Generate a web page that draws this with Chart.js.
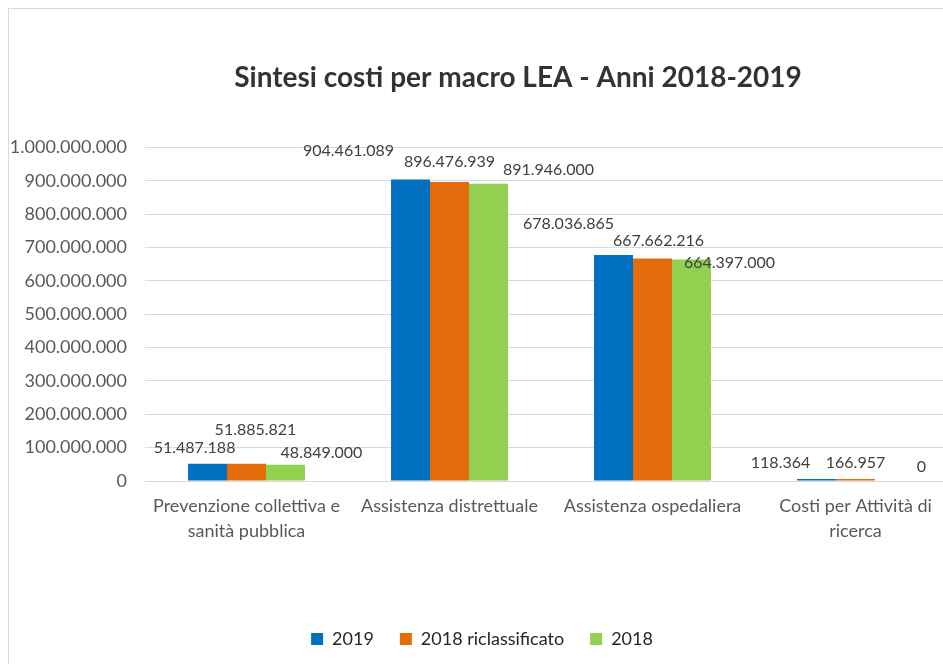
<!DOCTYPE html>
<html><head><meta charset="utf-8">
<script src="https://cdn.jsdelivr.net/npm/chart.js@4/dist/chart.umd.min.js"></script>
<style>
html,body{margin:0;padding:0;background:#fff;overflow:hidden;width:943px;height:664px;}
#frame{position:absolute;left:8px;top:8px;width:1100px;height:700px;border-left:1px solid #d9d9d9;border-top:1px solid #d9d9d9;}
#wrap{position:absolute;left:0;top:0;width:1018px;height:655px;}
</style></head><body>
<div id="frame"><div id="wrap"><canvas id="c"></canvas></div></div>
<script>
const categories = [["Prevenzione collettiva e","sanità pubblica"],"Assistenza distrettuale","Assistenza ospedaliera",["Costi per Attività di","ricerca"]];
const seriesNames = ["2019","2018 riclassificato","2018"];
const values2019 = [51487188, 904461089, 678036865, 118364];
const values2018Riclassificato = [51885821, 896476939, 667662216, 166957];
const values2018 = [48849000, 891946000, 664397000, 0];
const yMin = 0, yMax = 1000000000, yStep = 100000000;
const seriesColors = ["#0070C0","#E46C0A","#92D050"];

const fmt = v => String(v).replace(/\B(?=(\d{3})+(?!\d))/g, ".");

// label placement (dx, dy from top-centre of each bar), per series
const labelOffsets = [
  [[-13,-16],[-62,-29],[-45,-31],[-36,-18]],
  [[9,-34],[0,-20],[6,-18],[0,-18]],
  [[36,-12],[60,-14],[38,3],[27,-14]]
];

const dataLabels = {
  id: 'dataLabels',
  afterDatasetsDraw(chart) {
    const ctx = chart.ctx;
    ctx.save();
    ctx.font = '16px Lato';
    ctx.fillStyle = '#404040';
    ctx.textAlign = 'center';
    ctx.textBaseline = 'middle';
    chart.data.datasets.forEach((ds, i) => {
      chart.getDatasetMeta(i).data.forEach((bar, j) => {
        const [dx, dy] = labelOffsets[i][j];
        const top = chart.scales.y.getPixelForValue(ds.data[j]);
        ctx.fillText(fmt(ds.data[j]), bar.x + dx, top + dy);
      });
    });
    ctx.restore();
  }
};

const legendShift = {
  id: 'legendShift',
  afterLayout(chart, args, opts) {
    const l = chart.legend;
    if (l) { l.left += opts.dx; l.right += opts.dx; }
  }
};

new Chart(document.getElementById('c'), {
  type: 'bar',
  data: {
    labels: categories,
    datasets: [
      { label: seriesNames[0], data: values2019, backgroundColor: seriesColors[0], minBarLength: 2 },
      { label: seriesNames[1], data: values2018Riclassificato, backgroundColor: seriesColors[1], minBarLength: 2 },
      { label: seriesNames[2], data: values2018, backgroundColor: seriesColors[2] }
    ]
  },
  options: {
    responsive: true,
    maintainAspectRatio: false,
    animation: false,
    layout: { padding: { left: 0, right: 0, top: 0, bottom: 6 } },
    datasets: { bar: { categoryPercentage: 0.576, barPercentage: 1.0, borderWidth: 0 } },
    scales: {
      x: {
        grid: { display: false, drawTicks: false },
        border: { display: false },
        ticks: { color: '#595959', font: { family: 'Lato', size: 18, lineHeight: 1.39 }, padding: 13, maxRotation: 0, autoSkip: false },
        afterFit(scale) { scale.height = 123; }
      },
      y: {
        min: yMin, max: yMax,
        grid: { color: '#d9d9d9', lineWidth: 1, drawTicks: false },
        border: { display: false },
        ticks: { stepSize: yStep, color: '#595959', font: { family: 'Lato', size: 18 }, padding: 18, callback: v => fmt(v) },
        afterFit(scale) { scale.width = 136; }
      },
      yRight: {
        position: 'right',
        grid: { display: false, drawTicks: false },
        border: { display: false },
        ticks: { display: false },
        afterFit(scale) { scale.width = 70; }
      }
    },
    plugins: {
      title: {
        display: true,
        text: 'Sintesi costi per macro LEA - Anni 2018-2019',
        color: '#333333',
        font: { family: 'Lato', size: 28, weight: 'bold' },
        padding: { top: 52, bottom: 53 }
      },
      legend: {
        position: 'bottom',
        labels: { boxWidth: 12, boxHeight: 12, color: '#262626', font: { family: 'Lato', size: 18 }, padding: 26 }
      },
      legendShift: { dx: -36 },
      tooltip: { enabled: false }
    }
  },
  plugins: [dataLabels, legendShift]
});
</script>
</body></html>
